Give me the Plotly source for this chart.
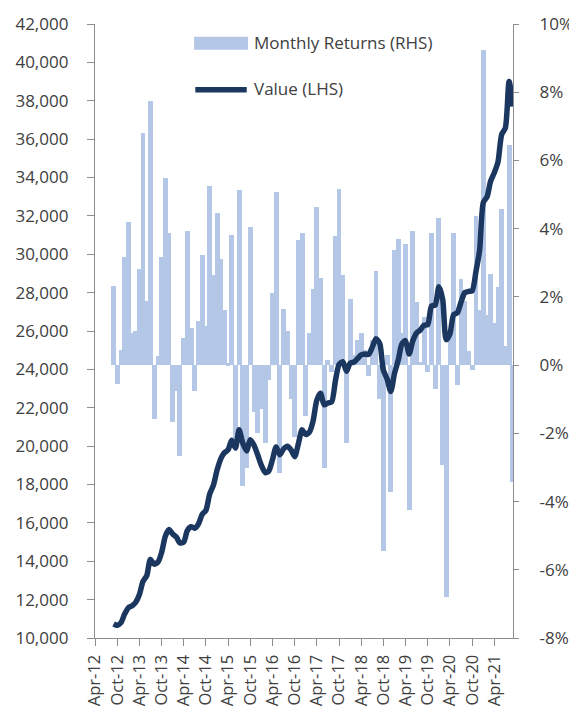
import plotly.graph_objects as go
import pandas as pd

# Monthly dates (Sep-12 .. Sep-21)
months = pd.date_range("2012-09-01", "2021-09-01", freq="MS")

# Monthly returns (%), right-hand axis
monthly_returns = [
    2.33, -0.55, 0.43, 3.16, 4.2, 0.95, 1.0, 2.83, 6.8, 1.87,
    7.73, -1.57, 0.28, 3.16, 5.49, 3.87, -1.68, -0.77, -2.66, 0.79,
    3.92, 1.09, -0.77, 1.3, 3.22, 1.16, 5.26, 2.65, 4.45, 3.1,
    1.62, 0.05, 3.8, -2.38, 5.14, -3.55, -3.02, 4.04, -1.36, -1.99,
    -1.3, -2.27, -0.43, 2.11, 5.07, -3.17, 1.65, 1.0, -1.0, -2.1,
    3.68, 3.87, -1.5, 0.94, 2.23, 4.64, 2.55, -3.02, 0.15, -0.2,
    3.79, 5.16, 2.65, -2.27, 1.94, 0.3, 0.74, 0.94, 0.45, -0.33,
    0.74, 2.75, -1.0, -5.46, 0.3, -3.73, 3.38, 3.7, 0.94, 3.56,
    -4.24, 3.92, 1.84, 0.1, 1.42, -0.21, 3.86, -0.7, 4.31, -2.92,
    -6.8, 0.9, 3.86, -0.57, 2.52, 1.87, 0.4, -0.13, 4.38, 1.62,
    9.23, 1.48, 2.68, 1.23, 2.3, 4.58, 0.55, 6.44, -3.43,
]

# Portfolio value, left-hand axis
value = [
    10730, 10660, 10800, 11250, 11580, 11680, 11850, 12250, 12950, 13250,
    14100, 13850, 13950, 14450, 15300, 15650, 15420, 15250, 14950, 15000,
    15600, 15800, 15720, 15950, 16450, 16650, 17500, 17950, 18750, 19350,
    19650, 19800, 20300, 19900, 20850, 20150, 19750, 20330, 20050, 19550,
    19000, 18620, 18700, 19300, 19950, 19550, 19850, 20000, 19800, 19450,
    20150, 20850, 20600, 20750, 21300, 22400, 22750, 22150, 22250, 22300,
    23400, 24250, 24400, 23900, 24330, 24380, 24550, 24750, 24800, 24780,
    25150, 25600, 25350, 23950, 23500, 22850, 23800, 24500, 25300, 25500,
    24800, 25500, 25900, 26050, 26300, 26330, 27300, 27350, 28300, 27650,
    25550, 25850, 26850, 26950, 27500, 28000, 28060, 28100, 29100, 30200,
    32700, 33000, 33800, 34250, 34800, 36250, 36580, 39000, 37700,
]

tick_dates = pd.date_range("2012-04-01", "2021-04-01", freq="6MS")
tick_labels = [
    "Apr-12", "Oct-12", "Apr-13", "Oct-13", "Apr-14", "Oct-14", "Apr-15",
    "Oct-15", "Apr-16", "Oct-16", "Apr-17", "Oct-17", "Apr-18", "Oct-18",
    "Apr-19", "Oct-19", "Apr-20", "Oct-20", "Apr-21",
]

rhs_tick_vals = [-8, -6, -4, -2, 0, 2, 4, 6, 8, 10]
rhs_tick_labels = ["-8%", "-6%", "-4%", "-2%", "0%", "2%", "4%", "6%", "8%", "10%"]

legend_labels = ["Monthly Returns (RHS)", "Value (LHS)"]

BAR_COLOR = "#B4C7E7"
LINE_COLOR = "#1B375F"
TEXT_COLOR = "#404040"
AXIS_COLOR = "#8C8C8C"
FONT = "Open Sans"
FS = 17

fig = go.Figure()

fig.add_trace(go.Bar(
    x=months, y=monthly_returns, yaxis="y",
    marker=dict(color=BAR_COLOR, line=dict(width=0)),
    width=40 * 24 * 3600 * 1000,
    name=legend_labels[0], showlegend=False,
))

fig.add_trace(go.Scatter(
    x=months, y=value, yaxis="y2", mode="lines",
    line=dict(color=LINE_COLOR, width=5.5, shape="spline", smoothing=0.7),
    name=legend_labels[1], showlegend=False,
))

# Custom legend (patch + line + labels)
fig.add_shape(type="rect", xref="paper", yref="paper",
              x0=0.237, x1=0.366, y0=0.958, y1=0.9793,
              fillcolor=BAR_COLOR, line=dict(width=0), layer="above")
fig.add_shape(type="line", xref="paper", yref="paper",
              x0=0.240, x1=0.363, y0=0.8930, y1=0.8930,
              line=dict(color=LINE_COLOR, width=5.5), layer="above")
fig.add_annotation(xref="paper", yref="paper", x=0.376, y=0.9694,
                   text=legend_labels[0], showarrow=False, xanchor="left",
                   yanchor="middle", font=dict(family=FONT, size=FS, color=TEXT_COLOR))
fig.add_annotation(xref="paper", yref="paper", x=0.376, y=0.8945,
                   text=legend_labels[1], showarrow=False, xanchor="left",
                   yanchor="middle", font=dict(family=FONT, size=FS, color=TEXT_COLOR))

fig.update_layout(
    width=569, height=708,
    margin=dict(l=95, r=56, t=24, b=70, autoexpand=False),
    paper_bgcolor="white", plot_bgcolor="white",
    font=dict(family=FONT, size=FS, color=TEXT_COLOR),
    barmode="overlay",
    bargap=0,
    xaxis=dict(
        type="date", automargin=False,
        range=["2012-04-01", "2021-09-02"],
        tickmode="array", tickvals=list(tick_dates), ticktext=tick_labels,
        tickangle=-90,
        showline=True, linecolor=AXIS_COLOR, linewidth=1.3,
        ticks="outside", ticklen=7, tickcolor=AXIS_COLOR, tickwidth=1.3,
        showgrid=False, zeroline=False,
        ticklabelstandoff=2,
        tickfont=dict(family=FONT, size=16.5, color=TEXT_COLOR),
    ),
    yaxis=dict(
        side="right", range=[-8, 10],
        tickmode="array", tickvals=rhs_tick_vals, ticktext=rhs_tick_labels,
        automargin=False,
        showline=True, linecolor=AXIS_COLOR, linewidth=1.3,
        ticks="outside", ticklen=5, tickcolor=AXIS_COLOR, tickwidth=1.3,
        showgrid=False, zeroline=False,
        ticklabelstandoff=17,
        tickfont=dict(family=FONT, size=FS, color=TEXT_COLOR),
    ),
    yaxis2=dict(
        side="left", overlaying="y", range=[10000, 42000], dtick=2000,
        tickformat=",", automargin=False,
        showline=True, linecolor=AXIS_COLOR, linewidth=1.3,
        ticks="outside", ticklen=7, tickcolor=AXIS_COLOR, tickwidth=1.3,
        showgrid=False, zeroline=False,
        ticklabelstandoff=15,
        tickfont=dict(family=FONT, size=FS, color=TEXT_COLOR),
    ),
)

fig.write_html(
    "out.html",
    config={"displayModeBar": False},
    post_script="document.body.style.margin='0';document.body.style.overflow='hidden';",
)
